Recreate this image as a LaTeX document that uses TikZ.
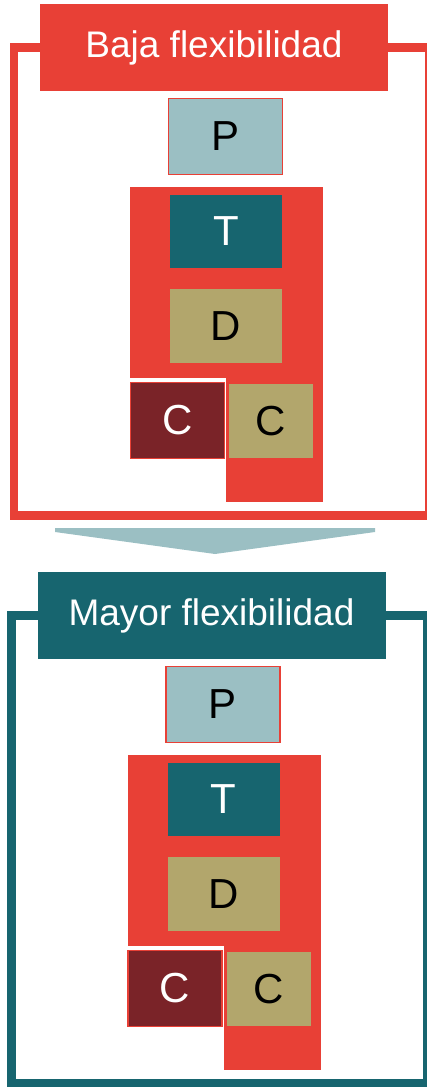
\documentclass[tikz,border=0pt]{standalone}
\usepackage{fontspec}
\setmainfont{Liberation Sans}
\definecolor{flexred}{HTML}{E84036}
\definecolor{flexteal}{HTML}{17656F}
\definecolor{flexlight}{HTML}{9BBFC3}
\definecolor{flextan}{HTML}{B2A66C}
\definecolor{flexdark}{HTML}{7A2328}
\tikzset{
  frameline/.style={line width=8.5pt},
  header/.style={fill=#1, text=white, inner sep=0pt, minimum width=348pt, minimum height=87pt, font=\fontsize{37}{40}\selectfont},
  letterbox/.style={inner sep=0pt, font=\fontsize{42}{44}\selectfont},
  pbox/.style={letterbox, fill=flexlight, draw=flexred, line width=1.5pt, minimum width=114pt, minimum height=76pt, text=black},
  tbox/.style={letterbox, fill=flexteal, minimum width=112pt, minimum height=73pt, text=white},
  dbox/.style={letterbox, fill=flextan, minimum width=112pt, minimum height=74pt, text=black},
  cdbox/.style={letterbox, fill=flexdark, draw=flexred, line width=1.5pt, minimum width=94pt, minimum height=76pt, text=white},
  ctbox/.style={letterbox, fill=flextan, minimum width=84pt, minimum height=74pt, text=black},
  arrowshape/.style={fill=flexlight}
}
\newcommand{\flexpanel}[3]{%
  \draw[frameline, #1] (14,47.5) rectangle (429.5,515.5);
  \node[header=#1] (#3head) at (214,47.5) {#2};
  \node[pbox] (#3P) at (225.5,136.5) {P};
  \fill[flexred] (130,187) rectangle (323,378);
  \fill[flexred] (226,378) rectangle (323,502);
  \node[tbox] (#3T) at (226,231.5) {T};
  \node[dbox] (#3D) at (226,326) {D};
  \node[cdbox] (#3C1) at (177.5,420.5) {C};
  \node[ctbox] (#3C2) at (271,421) {C};
}
\begin{document}
\begin{tikzpicture}[x=1pt, y=-1pt]
  \useasboundingbox (0,0) rectangle (427,1087);
  \flexpanel{flexred}{Baja flexibilidad}{a}
  \fill[arrowshape] (55,528) -- (375,528) -- (375,532) -- (215,554) -- (55,532) -- cycle;
  \begin{scope}[shift={(-2.5pt,-568pt)}]
    \flexpanel{flexteal}{Mayor flexibilidad}{b}
  \end{scope}
\end{tikzpicture}
\end{document}
